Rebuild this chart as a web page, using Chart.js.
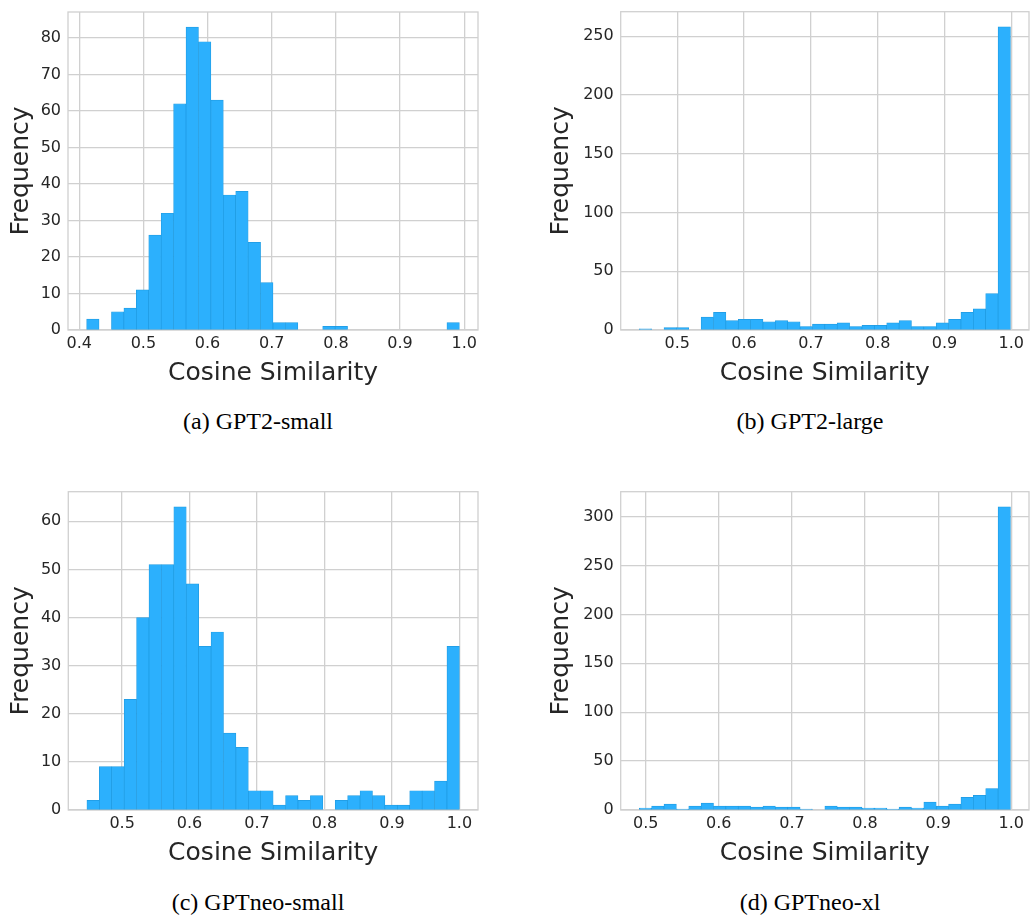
<!DOCTYPE html>
<html><head><meta charset="utf-8">
<script src="https://cdn.jsdelivr.net/npm/chart.js@4.4.1/dist/chart.umd.min.js"></script>
<style>
html,body{margin:0;padding:0;background:#fff;width:1030px;height:918px;overflow:hidden;}
.panel{position:absolute;}
.panel canvas{display:block;}
.cap{position:absolute;font-family:"Liberation Serif","Times New Roman",serif;font-size:24px;color:#000;white-space:nowrap;transform:translate(-50%,-50%);}
</style></head><body>
<div class="panel" style="left:0;top:0"><canvas id="ca" width="490" height="400"></canvas></div>
<div class="panel" style="left:540px;top:0"><canvas id="cb" width="490" height="400"></canvas></div>
<div class="panel" style="left:0;top:480px"><canvas id="cc" width="490" height="400"></canvas></div>
<div class="panel" style="left:540px;top:480px"><canvas id="cd" width="490" height="400"></canvas></div>
<div class="cap" style="left:258px;top:421px">(a) GPT2-small</div>
<div class="cap" style="left:810px;top:421px">(b) GPT2-large</div>
<div class="cap" style="left:258px;top:902px">(c) GPTneo-small</div>
<div class="cap" style="left:810px;top:902px">(d) GPTneo-xl</div>
<script>
// ---- data (30-bin histograms of cosine similarity) ----
const gpt2SmallRange = [0.4115, 0.9925];
const gpt2SmallCounts = [3,0,5,6,11,26,32,62,83,79,63,37,38,24,13,2,2,0,0,1,1,0,0,0,0,0,0,0,0,2];
const gpt2LargeRange = [0.4431, 0.9987];
const gpt2LargeCounts = [1,0,2,2,0,11,15,8,9,9,7,8,7,3,5,5,6,3,4,4,6,8,3,3,6,9,15,18,31,258];
const neoSmallRange = [0.4478, 1.0];
const neoSmallCounts = [2,9,9,23,40,51,51,63,47,34,37,16,13,4,4,1,3,2,3,0,2,3,4,3,1,1,4,4,6,34];
const neoXlRange = [0.4912, 0.9988];
const neoXlCounts = [2,4,6,1,4,7,4,4,4,3,4,3,3,1,0,4,3,3,2,2,1,3,2,8,4,6,13,15,22,310];

const xTicksA = [0.4,0.5,0.6,0.7,0.8,0.9,1.0];
const xTicksBCD = [0.5,0.6,0.7,0.8,0.9,1.0];
const yTicksA = [0,10,20,30,40,50,60,70,80];
const yTicksB = [0,50,100,150,200,250];
const yTicksC = [0,10,20,30,40,50,60];
const yTicksD = [0,50,100,150,200,250,300];

const xTitle = 'Cosine Similarity';
const yTitle = 'Frequency';

// ---- styling ----
const BAR = '#2cb0fd', EDGE = '#1f9ae0', GRID = '#d0d0d0', TXT = '#262626';
const frame = {
  id: 'frame',
  beforeDatasetsDraw(chart) {
    const {ctx, chartArea: a} = chart;
    ctx.save(); ctx.strokeStyle = GRID; ctx.lineWidth = 1.3;
    ctx.strokeRect(a.left, a.top, a.right - a.left, a.bottom - a.top);
    ctx.restore();
  }
};
function noPad(s) { s.paddingTop = 0; s.paddingBottom = 0; s.paddingLeft = 0; s.paddingRight = 0; }

function histogram(id, range, counts, xTicks, yTicks, padTop, padRight, yWidth) {
  const n = counts.length, w = (range[1] - range[0]) / n, span = range[1] - range[0];
  const pts = counts.map((c, i) => ({x: range[0] + (i + 0.5) * w, y: c}));
  const yMax = Math.max(...counts) * 1.05;
  new Chart(document.getElementById(id), {
    type: 'bar',
    data: {datasets: [{data: pts, backgroundColor: BAR, borderColor: EDGE, borderWidth: 0.7,
      borderSkipped: false, categoryPercentage: 1, barPercentage: 1}]},
    options: {
      responsive: false, animation: false, devicePixelRatio: 1,
      layout: {padding: {left: 0, top: padTop, right: padRight, bottom: 0}},
      plugins: {legend: {display: false}, tooltip: {enabled: false}},
      scales: {
        x: {
          type: 'linear', offset: false,
          min: range[0] - 0.05 * span, max: range[1] + 0.05 * span,
          afterBuildTicks: s => { s.ticks = xTicks.map(v => ({value: v})); },
          afterFit: s => { s.height = 70; noPad(s); },
          grid: {color: GRID, lineWidth: 1.3, drawTicks: false, offset: false},
          border: {display: false},
          ticks: {color: TXT, padding: 4, font: {family: 'DejaVu Sans', size: 16},
            callback: v => Number(v).toFixed(1), maxRotation: 0, autoSkip: false},
          title: {display: true, text: xTitle, color: TXT, font: {family: 'DejaVu Sans', size: 25},
            padding: {top: 0, bottom: 12}}
        },
        y: {
          min: 0, max: yMax,
          afterBuildTicks: s => { s.ticks = yTicks.map(v => ({value: v})); },
          afterFit: s => { s.width = yWidth; noPad(s); },
          grid: {color: GRID, lineWidth: 1.3, drawTicks: false},
          border: {display: false},
          ticks: {color: TXT, padding: 7, font: {family: 'DejaVu Sans', size: 16}},
          title: {display: true, text: yTitle, color: TXT, font: {family: 'DejaVu Sans', size: 25},
            padding: {top: 6.5, bottom: 0}}
        }
      }
    },
    plugins: [frame]
  });
}

histogram('ca', gpt2SmallRange, gpt2SmallCounts, xTicksA, yTicksA, 12, 12, 68);
histogram('cb', gpt2LargeRange, gpt2LargeCounts, xTicksBCD, yTicksB, 11.7, 1, 80.7);
histogram('cc', neoSmallRange, neoSmallCounts, xTicksBCD, yTicksC, 11.7, 12, 68.3);
histogram('cd', neoXlRange, neoXlCounts, xTicksBCD, yTicksD, 11.7, 1, 80.7);
</script>
</body></html>
